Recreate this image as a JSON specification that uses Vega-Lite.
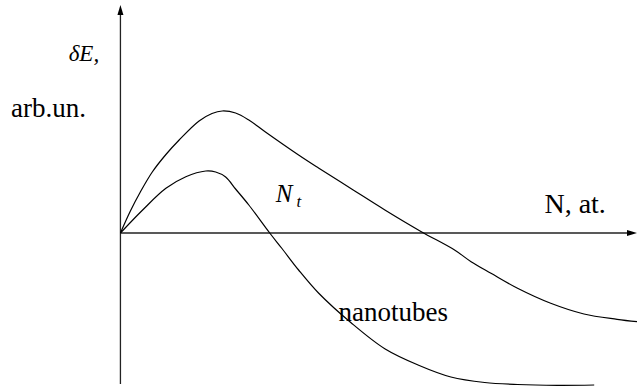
{
  "$schema": "https://vega.github.io/schema/vega-lite/v6.json",
  "width": 640,
  "height": 390,
  "autosize": {"type": "fit", "contains": "padding"},
  "padding": 0,
  "background": "white",
  "config": {"view": {"stroke": null}, "text": {"font": "'Liberation Serif', 'DejaVu Serif', 'Times New Roman', serif"}},
  "datasets": {
    "upper": [
      {"x": 0, "y": 0}, {"x": 10, "y": 22}, {"x": 20, "y": 41}, {"x": 32, "y": 61},
      {"x": 45.7, "y": 78.5}, {"x": 59, "y": 93}, {"x": 79, "y": 112}, {"x": 92, "y": 119.5},
      {"x": 102.3, "y": 122}, {"x": 115.7, "y": 120}, {"x": 129, "y": 113}, {"x": 145.7, "y": 101},
      {"x": 179, "y": 78}, {"x": 199, "y": 65}, {"x": 232.3, "y": 44}, {"x": 265.7, "y": 23},
      {"x": 302.3, "y": 1.3}, {"x": 335.7, "y": -17}, {"x": 352.3, "y": -28.7}, {"x": 372.3, "y": -40.3},
      {"x": 399, "y": -55.3}, {"x": 432.3, "y": -70.3}, {"x": 465.7, "y": -81}, {"x": 499, "y": -86.3},
      {"x": 519, "y": -88.7}
    ],
    "lower": [
      {"x": 0, "y": 0}, {"x": 22.3, "y": 23}, {"x": 45.7, "y": 44.7}, {"x": 65.7, "y": 56.3},
      {"x": 85.7, "y": 62}, {"x": 95.7, "y": 61}, {"x": 105.7, "y": 56}, {"x": 115.7, "y": 44},
      {"x": 129, "y": 28}, {"x": 150, "y": 0}, {"x": 162.3, "y": -15.5}, {"x": 179, "y": -37},
      {"x": 199, "y": -60}, {"x": 232, "y": -90}, {"x": 266, "y": -116}, {"x": 299, "y": -132},
      {"x": 332, "y": -144}, {"x": 366, "y": -149.5}, {"x": 399, "y": -151.5},
      {"x": 439, "y": -152.3}, {"x": 476, "y": -152}
    ],
    "axisLines": [
      {"x": 0, "y": -151, "x2": 0, "y2": 223},
      {"x": 0, "y": 0, "x2": 514, "y2": 0}
    ],
    "arrowUp": [{"x": 0, "y": 223}],
    "arrowRight": [{"x": 514, "y": 0}],
    "plainLabels": [
      {"x": -110, "y": 116.3, "label": "arb.un."},
      {"x": 219, "y": -88, "label": "nanotubes"}
    ],
    "axisLabel": [{"x": 426, "y": 20, "label": "N, at."}],
    "italicLabels": [
      {"x": -52, "y": 172, "label": "δE,"}
    ],
    "nLabel": [
      {"x": 156, "y": 31, "label": "N"}
    ],
    "subscriptLabel": [{"x": 177, "y": 26, "label": "t"}]
  },
  "encoding": {
    "x": {"field": "x", "type": "quantitative", "scale": {"domain": [-121, 519], "nice": false, "zero": false}, "axis": null},
    "y": {"field": "y", "type": "quantitative", "scale": {"domain": [-157, 233], "nice": false, "zero": false}, "axis": null}
  },
  "layer": [
    {
      "data": {"name": "axisLines"},
      "mark": {"type": "rule", "color": "#222222", "strokeWidth": 1.3},
      "encoding": {
        "x2": {"field": "x2"},
        "y2": {"field": "y2"}
      }
    },
    {
      "data": {"name": "arrowUp"},
      "mark": {"type": "point", "shape": "M0,-1L-0.6,1L0.6,1Z", "filled": true, "color": "black", "opacity": 1, "size": 100}
    },
    {
      "data": {"name": "arrowRight"},
      "mark": {"type": "point", "shape": "M1,0L-1,-0.6L-1,0.6Z", "filled": true, "color": "black", "opacity": 1, "size": 100}
    },
    {
      "data": {"name": "upper"},
      "mark": {"type": "line", "color": "black", "strokeWidth": 1.2, "interpolate": "catmull-rom"}
    },
    {
      "data": {"name": "lower"},
      "mark": {"type": "line", "color": "black", "strokeWidth": 1.2, "interpolate": "catmull-rom"}
    },
    {
      "data": {"name": "plainLabels"},
      "mark": {"type": "text", "fontSize": 27, "align": "left", "baseline": "alphabetic", "color": "black"},
      "encoding": {"text": {"field": "label"}}
    },
    {
      "data": {"name": "axisLabel"},
      "mark": {"type": "text", "fontSize": 28, "align": "left", "baseline": "alphabetic", "color": "black"},
      "encoding": {"text": {"field": "label"}}
    },
    {
      "data": {"name": "italicLabels"},
      "mark": {"type": "text", "fontStyle": "italic", "fontSize": 23, "align": "left", "baseline": "alphabetic", "color": "black"},
      "encoding": {"text": {"field": "label"}}
    },
    {
      "data": {"name": "nLabel"},
      "mark": {"type": "text", "fontStyle": "italic", "fontSize": 25, "align": "left", "baseline": "alphabetic", "color": "black"},
      "encoding": {"text": {"field": "label"}}
    },
    {
      "data": {"name": "subscriptLabel"},
      "mark": {"type": "text", "fontStyle": "italic", "fontSize": 17, "align": "left", "baseline": "alphabetic", "color": "black"},
      "encoding": {"text": {"field": "label"}}
    }
  ]
}
